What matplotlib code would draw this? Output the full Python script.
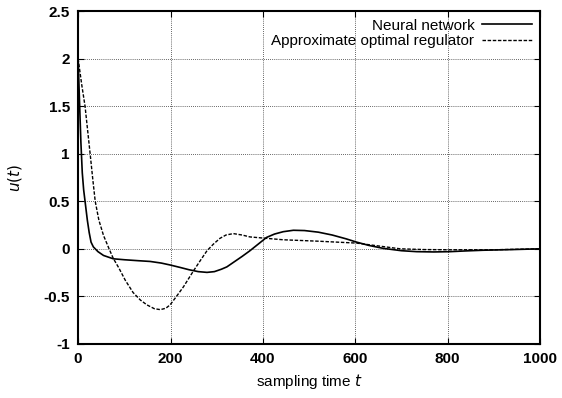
import matplotlib.pyplot as plt

# Neural network (solid)
t_nn = [0, 3, 6, 9, 12, 15, 20, 24, 28, 33, 43, 55, 76, 100, 130, 156, 180, 199, 220,
        240, 260, 279, 295, 310, 322, 340, 355, 372, 390, 408, 425, 444, 466, 490,
        520, 550, 580, 603, 630, 660, 700, 733, 770, 805, 840, 877, 940, 1000]
u_nn = [2.0, 1.55, 1.12, 0.8, 0.62, 0.5, 0.3, 0.17, 0.07, 0.02, -0.03, -0.07, -0.105,
        -0.115, -0.125, -0.133, -0.15, -0.17, -0.195, -0.22, -0.24, -0.248, -0.24,
        -0.215, -0.19, -0.13, -0.08, -0.02, 0.05, 0.12, 0.155, 0.18, 0.195, 0.192,
        0.175, 0.145, 0.105, 0.07, 0.035, 0.005, -0.02, -0.03, -0.033, -0.03, -0.022,
        -0.015, -0.008, 0.0]

# Approximate optimal regulator (dashed)
t_ao = [0, 8, 15, 26, 32, 37, 45, 55, 67, 76, 88, 102, 119, 135, 149, 165, 178,
        190, 199, 213, 228, 250, 265, 279, 293, 307, 320, 336, 355, 372, 408, 444, 520,
        603, 650, 697, 750, 805, 900, 1000]
u_ao = [2.0, 1.72, 1.5, 1.0, 0.72, 0.5, 0.3, 0.14, 0.0, -0.1, -0.2, -0.33, -0.46,
        -0.54, -0.59, -0.63, -0.64, -0.625, -0.59, -0.5, -0.4, -0.23, -0.12,
        -0.02, 0.05, 0.11, 0.145, 0.16, 0.145, 0.125, 0.11, 0.095, 0.08, 0.06, 0.03,
        0.0, -0.008, -0.01, -0.01, 0.0]

xticks = [0, 200, 400, 600, 800, 1000]
yticks = [-1, -0.5, 0, 0.5, 1, 1.5, 2, 2.5]
ylabels = ['-1', '-0.5', '0', '0.5', '1', '1.5', '2', '2.5']

plt.rcParams['font.family'] = ['Liberation Sans', 'DejaVu Sans']

fig = plt.figure(figsize=(5.62, 3.98), dpi=100)
ax = fig.add_axes([0.139, 0.136, 0.822, 0.836])

ax.plot(t_nn, u_nn, color='black', linewidth=1.2, label='Neural network')
ax.plot(t_ao, u_ao, color='black', linewidth=1.0, linestyle=(0, (2.5, 1.2)),
        label='Approximate optimal regulator')

ax.set_xlim(0, 1000)
ax.set_ylim(-1, 2.5)
ax.set_xticks(xticks)
ax.set_yticks(yticks)
ax.set_yticklabels(ylabels)
ax.tick_params(direction='in', top=True, right=True, length=4, labelsize=11, pad=6)
for lab in ax.get_xticklabels() + ax.get_yticklabels():
    lab.set_fontweight('bold')
ax.grid(True, color='#333333', linestyle=(0, (1, 1.5)), linewidth=0.6)
for s in ax.spines.values():
    s.set_linewidth(1.5)

ax.set_xlabel('sampling time $t$', fontsize=11)
ax.set_ylabel('$u(t)$', fontsize=11, labelpad=14)

ax.legend(loc='upper right', frameon=False, markerfirst=False, fontsize=11,
          handlelength=3.3, borderaxespad=0.1, labelspacing=0.1, handletextpad=0.5)

fig.savefig('out.png', dpi=100)
